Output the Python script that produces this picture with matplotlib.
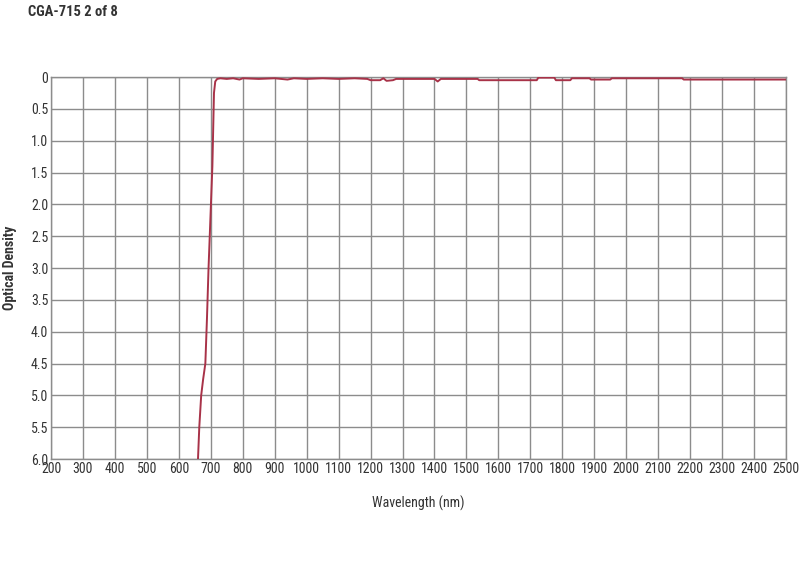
import numpy as np
import matplotlib.pyplot as plt

plt.rcParams['font.family'] = ['Roboto Condensed', 'DejaVu Sans']

wavelength = [660, 664, 670, 676, 683, 688, 693, 699, 705, 710, 714, 720,
              730, 750, 770, 790, 800, 850, 900, 940, 960, 1000, 1050, 1100,
              1150, 1190, 1200, 1230, 1240, 1250, 1270, 1280, 1400, 1410, 1420,
              1535, 1540, 1720, 1725, 1775, 1780, 1825, 1830, 1885, 1890, 1950,
              1955, 2175, 2180, 2500]
optical_density = [6.0, 5.5, 5.0, 4.75, 4.5, 3.8, 3.0, 2.2, 1.4, 0.25, 0.07, 0.03,
                   0.02, 0.03, 0.02, 0.04, 0.02, 0.03, 0.02, 0.04, 0.02, 0.03, 0.02, 0.03,
                   0.02, 0.03, 0.05, 0.05, 0.02, 0.06, 0.05, 0.03, 0.03, 0.07, 0.03,
                   0.03, 0.05, 0.05, 0.01, 0.01, 0.05, 0.05, 0.02, 0.02, 0.04, 0.04,
                   0.02, 0.02, 0.04, 0.04]

x_ticks = np.arange(200, 2501, 100)
y_ticks = np.arange(0, 6.01, 0.5)
y_labels = ['0'] + ['%.1f' % v for v in y_ticks[1:]]

fig = plt.figure(figsize=(8, 5.65), dpi=100)
ax = fig.add_axes([0.06375, 0.1876, 0.91875, 0.6761])

ax.plot(wavelength, optical_density, color='#a83248', linewidth=1.4, zorder=3)

ax.set_xlim(200, 2500)
ax.set_ylim(6, 0)
ax.set_xticks(x_ticks)
ax.set_yticks(y_ticks)
ax.set_yticklabels(y_labels)
ax.tick_params(length=0, labelsize=10, colors='#333333', pad=2)
ax.grid(True, color='#8c8c8c', linewidth=1)
for s in ax.spines.values():
    s.set_color('#8c8c8c')
    s.set_linewidth(1)

ax.set_xlabel('Wavelength (nm)', fontsize=10, color='#333333', labelpad=14)
ax.set_ylabel('Optical Density', fontsize=10, color='#333333', fontweight='bold', labelpad=10)
fig.text(0.035, 0.992, 'CGA-715 2 of 8', fontsize=10.5, fontweight='bold',
         color='#333333', va='top', ha='left')

fig.savefig('out.png', dpi=100)
